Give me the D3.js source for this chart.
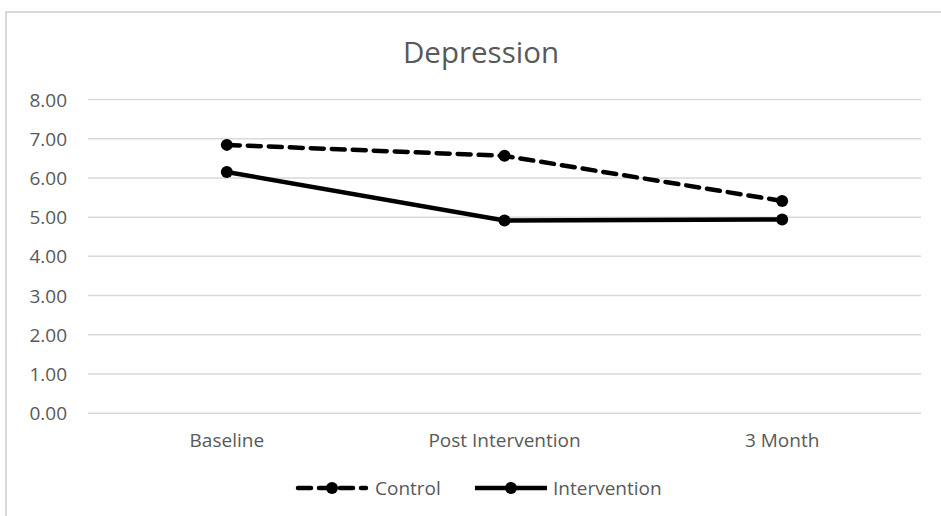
<!DOCTYPE html>
<html><head><meta charset="utf-8">
<script src="https://cdn.jsdelivr.net/npm/d3@7"></script>
<style>body{margin:0;background:#fff}svg{display:block}</style>
</head><body>
<script>
const categories = ["Baseline", "Post Intervention", "3 Month"];
const controlValues = [6.83, 6.55, 5.40];
const interventionValues = [6.14, 4.90, 4.93];
const yTicks = [0, 1, 2, 3, 4, 5, 6, 7, 8];
const seriesNames = ["Control", "Intervention"];

const W = 941, H = 516;
const svg = d3.select("body").append("svg").attr("width", W).attr("height", H);
const font = "'Open Sans', sans-serif";
const grey = "#595959";
const fs = "19px";

// chart border
svg.append("path").attr("d", `M6,${H} V12 H${W}`).attr("fill","none").attr("stroke","#d9d9d9").attr("stroke-width",2);

const x = d3.scaleBand().domain(categories).range([88, 921]);
const y = d3.scaleLinear().domain([0, 8]).range([412.7, 99]);

// grid
const yAxis = d3.axisLeft(y).tickValues(yTicks).tickFormat(d3.format(".2f")).tickSize(-(921-88)).tickPadding(21);
const gy = svg.append("g").attr("transform", "translate(88,0)").call(yAxis);
gy.select(".domain").remove();
gy.selectAll(".tick line").attr("stroke", "#d9d9d9").attr("stroke-width", 1.5);
gy.selectAll(".tick text").attr("fill", grey).attr("dy","0.37em").style("font-family", font).style("font-size", fs);

// x labels
const xAxis = d3.axisBottom(x).tickSize(0).tickPadding(21);
const gx = svg.append("g").attr("transform", "translate(0,412.7)").call(xAxis);
gx.select(".domain").remove();
gx.selectAll(".tick text").attr("fill", grey).style("font-family", font).style("font-size", fs);

// title
svg.append("text").attr("x", 481).attr("y", 62.5).attr("text-anchor","middle")
  .attr("fill", grey).style("font-family", font).style("font-size","29.5px").text("Depression");

const cx = d => x(d) + x.bandwidth()/2;
const series = [
  {name: seriesNames[0], values: controlValues, dash: "13,8"},
  {name: seriesNames[1], values: interventionValues, dash: null}
];
const line = d3.line().x((d,i) => cx(categories[i])).y(d => y(d));
series.forEach(s => {
  svg.append("path").datum(s.values).attr("d", line).attr("fill","none")
    .attr("stroke","#000").attr("stroke-width",4.5).attr("stroke-dasharray", s.dash)
    .attr("stroke-linecap", s.dash ? "round" : "butt");
  svg.selectAll(null).data(s.values).enter().append("circle")
    .attr("cx",(d,i)=>cx(categories[i])).attr("cy", d=>y(d)).attr("r",6).attr("fill","#000");
});

// legend
const legend = [
  {name: seriesNames[0], x0: 298, x1: 366, dash: "13,8", tx: 375},
  {name: seriesNames[1], x0: 475, x1: 547, dash: null, tx: 553}
];
legend.forEach(l => {
  svg.append("line").attr("x1", l.x0).attr("x2", l.x1).attr("y1", 488).attr("y2", 488)
    .attr("stroke","#000").attr("stroke-width",4.5).attr("stroke-dasharray", l.dash)
    .attr("stroke-linecap", l.dash ? "round" : "butt");
  svg.append("circle").attr("cx", (l.x0+l.x1)/2).attr("cy", 488).attr("r", 6).attr("fill","#000");
  svg.append("text").attr("x", l.tx).attr("y", 495).attr("fill", grey)
    .style("font-family", font).style("font-size", fs).text(l.name);
});
</script>
</body></html>
